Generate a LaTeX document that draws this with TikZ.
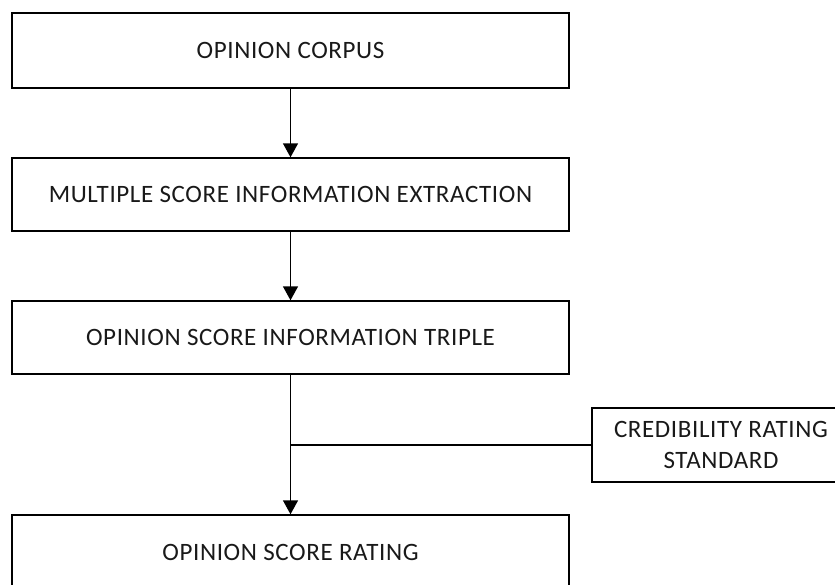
\documentclass[tikz,border=0pt]{standalone}
\usepackage{fontspec}
\setmainfont[LetterSpace=2.5]{Carlito}
\usetikzlibrary{arrows.meta}
\begin{document}
\begin{tikzpicture}[x=1pt,y=-1pt,
  boxnode/.style={draw=black,line width=1.4pt,rectangle,minimum width=557pt,minimum height=75pt,inner sep=0pt,font=\fontsize{25pt}{30pt}\selectfont,text=black!90},
  sidebox/.style={draw=black,line width=1.4pt,rectangle,minimum width=258pt,minimum height=74pt,inner sep=0pt,align=center,font=\fontsize{25pt}{31pt}\selectfont,text=black!90},
  flow/.style={line width=1.4pt,-{Triangle[width=15pt,length=14pt]}},
  plain/.style={line width=1.4pt}]
\useasboundingbox (0,0) rectangle (835,584);
\clip (0,0) rectangle (835,584);
\node[boxnode] (b1) at (290.5,50.5) {OPINION CORPUS};
\node[boxnode,minimum height=73pt] (b2) at (290.5,194.5) {MULTIPLE SCORE INFORMATION EXTRACTION};
\node[boxnode,minimum height=73pt] (b3) at (290.5,337.5) {OPINION SCORE INFORMATION TRIPLE};
\node[boxnode] (b4) at (290.5,552.5) {OPINION SCORE RATING};
\node[sidebox] (cr) at (721,445) {CREDIBILITY RATING\\STANDARD};
\coordinate (j) at (b3.south |- cr.west);
\draw[flow] (b1.south) -- (b2.north);
\draw[flow] (b2.south) -- (b3.north);
\draw[flow] (b3.south) -- (b4.north);
\draw[plain] (cr.west) -- (j);
\end{tikzpicture}
\end{document}
